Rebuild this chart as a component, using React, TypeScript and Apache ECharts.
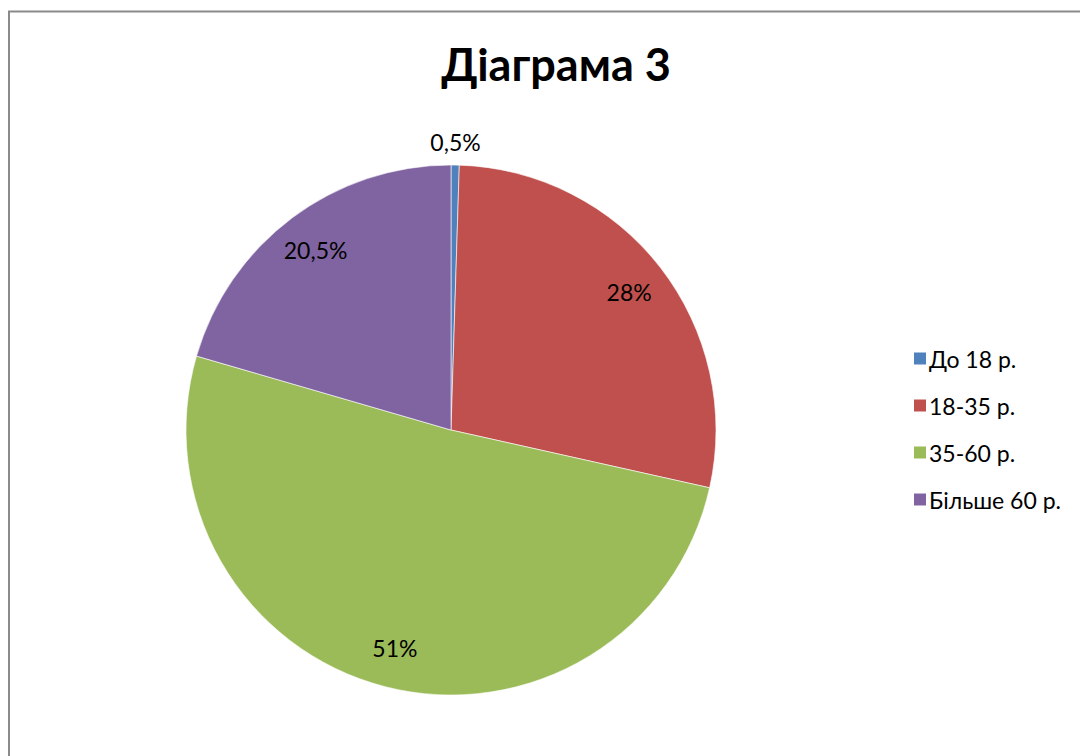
import React, { useEffect, useRef } from "react";
import * as echarts from "echarts";

const title = "Діаграма 3";
const categories = ["До 18 р.", "18-35 р.", "35-60 р.", "Більше 60 р."];
const values = [0.5, 28, 51, 20.5];
const labels = ["0,5%", "28%", "51%", "20,5%"];
const colors = ["#4F81BD", "#C0504D", "#9BBB59", "#8064A2"];

const FONT = "Lato, 'Noto Sans', sans-serif";

export default function App() {
  const ref = useRef<HTMLDivElement>(null);
  useEffect(() => {
    if (!ref.current) return;
    const chart = echarts.init(ref.current, undefined, { renderer: "svg" });
    const data = categories.map((c, i) => ({
      name: c,
      value: values[i],
      itemStyle: { color: colors[i] },
    }));
    const labelData = categories.map((c, i) => ({
      name: c,
      value: values[i],
      label: { show: i !== 0, formatter: labels[i] },
    }));
    const outerLabelData = categories.map((c, i) => ({
      name: c,
      value: values[i],
      label: { show: i === 0, formatter: labels[i] },
    }));
    const labelStyle = {
      position: "inside" as const,
      color: "#000",
      fontSize: 23,
      fontFamily: FONT,
    };
    chart.setOption({
      animation: false,
      backgroundColor: "#fff",
      color: colors,
      title: {
        text: title,
        left: 551,
        top: 36,
        textAlign: "center",
        textStyle: { fontSize: 45, fontWeight: "bold", color: "#000", fontFamily: FONT },
      },
      legend: {
        orient: "vertical",
        left: 907,
        top: 342,
        itemWidth: 14,
        itemHeight: 14,
        itemGap: 24,
        icon: "rect",
        data: categories,
        textStyle: { fontSize: 23, color: "#000", fontFamily: FONT, padding: [0, 0, 0, -3] },
      },
      graphic: [
        {
          type: "rect",
          shape: { x: 9, y: 11.5, width: 1200, height: 1000 },
          style: { fill: "none", stroke: "#8a8a8a", lineWidth: 2 },
          silent: true,
        },
      ],
      series: [
        {
          type: "pie",
          center: [451, 430],
          radius: [0, 265],
          startAngle: 90,
          clockwise: true,
          data,
          label: { show: false },
          labelLine: { show: false },
          itemStyle: { borderColor: "#fff", borderWidth: 0.6 },
          emphasis: { disabled: true },
        },
        {
          type: "pie",
          center: [451, 430],
          radius: [180, 265],
          startAngle: 90,
          clockwise: true,
          data: labelData,
          itemStyle: { color: "transparent" },
          label: labelStyle,
          labelLine: { show: false },
          silent: true,
          legendHoverLink: false,
          emphasis: { disabled: true },
        },
        {
          type: "pie",
          center: [451, 430],
          radius: [265, 305],
          startAngle: 90,
          clockwise: true,
          data: outerLabelData,
          itemStyle: { color: "transparent" },
          label: labelStyle,
          labelLine: { show: false },
          silent: true,
          legendHoverLink: false,
          emphasis: { disabled: true },
        },
      ],
    });
    return () => chart.dispose();
  }, []);
  return (
    <div
      ref={ref}
      style={{ position: "absolute", left: 0, top: 0, width: 1080, height: 756 }}
    />
  );
}
